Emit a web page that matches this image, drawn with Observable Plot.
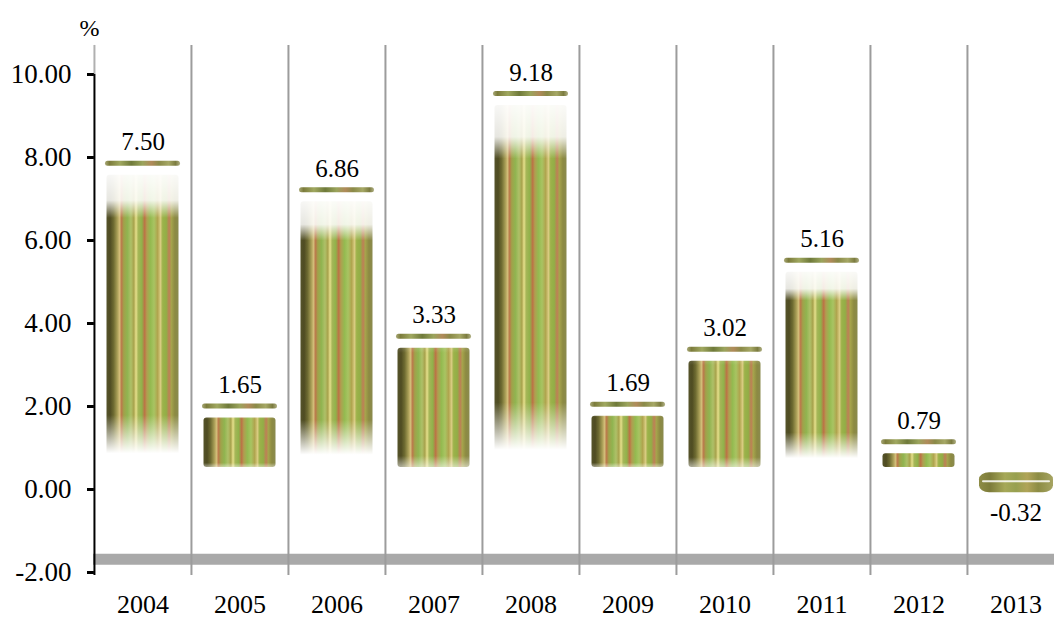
<!DOCTYPE html>
<html>
<head>
<meta charset="utf-8">
<script src="https://cdn.jsdelivr.net/npm/d3@7"></script>
<script src="https://cdn.jsdelivr.net/npm/@observablehq/plot@0.6"></script>
<style>
  html, body { margin: 0; padding: 0; background: #fff; }
  #chart svg { display: block; }
</style>
</head>
<body>
<div id="chart"></div>
<script>
// Annual growth, %, 2004–2013
const years = ["2004", "2005", "2006", "2007", "2008", "2009", "2010", "2011", "2012", "2013"];
const growth = [7.50, 1.65, 6.86, 3.33, 9.18, 1.69, 3.02, 5.16, 0.79, -0.32];
const yTicks = [-2, 0, 2, 4, 6, 8, 10];

const data = years.map((year, i) => ({year, value: growth[i]}));
const positive = data.filter(d => d.value >= 0);
const negative = data.filter(d => d.value < 0);
const fmt = v => v.toFixed(2); // plain hyphen for negatives

const bandWidth = 971 / years.length; // px per category
const bandHalf = bandWidth / 2;
const serif = "'Liberation Serif', 'Times New Roman', serif";

const chart = Plot.plot({
  width: 1054,
  height: 620,
  marginLeft: 93,
  marginRight: 0,
  marginTop: 74,
  marginBottom: 48,
  style: {fontFamily: serif, fontSize: "25px", color: "#000", background: "#fff"},
  x: {type: "band", domain: years, range: [93, 1064], padding: 0},
  y: {domain: [-2, 10]},
  marks: [
    // thick grey category axis band
    Plot.ruleY([-1.68], {stroke: "#a9a9a9", strokeWidth: 11}),
    // separators between categories
    Plot.ruleX(years.slice(1), {dx: -bandHalf, y1: -2.07, y2: 10.7, stroke: "#9c9c9c", strokeWidth: 2}),
    // value axis line
    Plot.ruleX([years[0]], {dx: -bandHalf, y1: 10, y2: 10.7, stroke: "#b0b0b0", strokeWidth: 2}),
    Plot.ruleX([years[0]], {dx: -bandHalf, y1: -2.07, y2: 10, stroke: "#000", strokeWidth: 2}),
    // heavy tick marks on the value axis
    Plot.tickY(yTicks, {x: () => years[0], y: d => d, insetLeft: -7, insetRight: bandWidth, stroke: "#000", strokeWidth: 3}),

    // striped cylinder bodies
    Plot.barY(positive, {
      x: "year", y1: 0, y2: "value",
      insetTop: -3, insetBottom: 22, insetLeft: 12.5, insetRight: 12.5,
      rx: 3, fill: "url(#stripes)"
    }),
    // soft white fades over the bodies
    Plot.barY(positive, {
      filter: d => d.value > 4,
      x: "year", y1: 0, y2: "value",
      insetTop: -4, insetBottom: 21, insetLeft: 11.5, insetRight: 11.5,
      fill: "url(#fadeTall)"
    }),
    Plot.barY(positive, {
      filter: d => d.value <= 4,
      x: "year", y1: 0, y2: "value",
      insetTop: -4, insetBottom: 21, insetLeft: 11.5, insetRight: 11.5,
      fill: "url(#fadeShort)"
    }),
    // coin rim on top of each bar
    Plot.barY(positive, {
      x: "year", y1: "value", y2: "value",
      insetTop: -17, insetBottom: 12, insetLeft: 11, insetRight: 11,
      rx: 2.5, fill: "url(#capStripes)"
    }),
    // a lone coin for the negative year
    Plot.barY(negative, {
      x: "year", y1: "value", y2: "value",
      insetTop: -30, insetBottom: 10, insetLeft: 12, insetRight: 11,
      rx: 10, ry: 7, fill: "url(#coin)"
    }),
    Plot.barY(negative, {
      x: "year", y1: "value", y2: "value",
      insetTop: -22, insetBottom: 20, insetLeft: 15, insetRight: 14,
      rx: 1, fill: "#fff", fillOpacity: 0.85
    }),

    // value labels
    Plot.text(positive, {x: "year", y: "value", text: d => fmt(d.value), dy: -36, fontSize: 25, fill: "#000"}),
    Plot.text(negative, {x: "year", y: "value", text: d => fmt(d.value), dy: 10, fontSize: 25, fill: "#000"}),

    // axes
    Plot.axisY({ticks: yTicks, tickFormat: fmt, tickSize: 0, tickPadding: 22, fontSize: 27, fontFamily: serif, label: null}),
    Plot.axisX({tickSize: 0, tickPadding: 22, fontSize: 26, fontFamily: serif, label: null}),
    Plot.text(["%"], {frameAnchor: "top-left", textAnchor: "middle", dx: -4, dy: -56, fontSize: 24, fill: "#000"})
  ]
});

// gradients used by the bars
const defs = d3.select(chart).insert("defs", ":first-child");
function gradient(id, stops, vertical) {
  const g = defs.append("linearGradient").attr("id", id)
    .attr("x1", 0).attr("y1", 0)
    .attr("x2", vertical ? 0 : 1).attr("y2", vertical ? 1 : 0);
  for (const [o, c, a = 1] of stops) {
    g.append("stop").attr("offset", o).attr("stop-color", c).attr("stop-opacity", a);
  }
}
gradient("stripes", [
  [0.00, "#55532a"], [0.05, "#4f4c22"], [0.10, "#6f6c32"], [0.15, "#a89e56"],
  [0.18, "#d2bd78"], [0.21, "#b9794a"], [0.24, "#a0a24a"], [0.29, "#90b450"],
  [0.34, "#aec068"], [0.38, "#a8a24c"], [0.41, "#e6e08c"], [0.44, "#a6b658"],
  [0.49, "#90b24a"], [0.53, "#bd7246"], [0.56, "#b09e50"], [0.61, "#94ba50"],
  [0.66, "#a8c462"], [0.71, "#b0a44e"], [0.75, "#d8cb80"], [0.78, "#9cb24a"],
  [0.83, "#92ae46"], [0.87, "#bf7e56"], [0.90, "#a6a44c"], [0.95, "#8c8a42"],
  [1.00, "#8a8a4e"]
]);
gradient("capStripes", [
  [0.00, "#a8a876"], [0.06, "#7c7c3c"], [0.20, "#a0a860"], [0.35, "#6f7a3a"],
  [0.50, "#9aa45c"], [0.62, "#b08a5a"], [0.72, "#8a8a48"], [0.85, "#a6a866"],
  [0.94, "#7c7c40"], [1.00, "#b0b084"]
]);
gradient("coin", [
  [0.00, "#8e8c46"], [0.15, "#7d7c3a"], [0.35, "#a6a858"], [0.5, "#97a050"],
  [0.65, "#b0a458"], [0.8, "#8c8c44"], [1.00, "#a6a462"]
]);
gradient("fadeTall", [
  [0.00, "#fff", 0.96], [0.09, "#fff", 0.86], [0.15, "#fff", 0],
  [0.82, "#fff", 0], [0.95, "#fff", 1], [1.00, "#fff", 1]
], true);
gradient("fadeShort", [
  [0.00, "#fff", 0.15], [0.05, "#fff", 0], [0.9, "#fff", 0], [1.00, "#fff", 0.6]
], true);

document.getElementById("chart").appendChild(chart);
</script>
</body>
</html>
